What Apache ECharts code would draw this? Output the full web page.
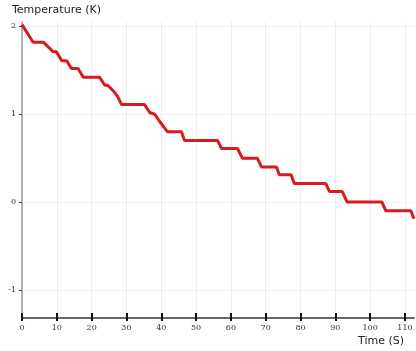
<!DOCTYPE html>
<html>
<head>
<meta charset="utf-8">
<script src="https://cdn.jsdelivr.net/npm/echarts@6/dist/echarts.min.js"></script>
<style>
html,body{margin:0;padding:0;background:#fff;}
#chart{width:416px;height:351px;}
</style>
</head>
<body>
<div id="chart"></div>
<script>
// time (s) and temperature (K), corners of the stair line
var times = [0, 3.2, 6.1, 9.0, 9.9, 11.4, 12.8, 14.2, 16.1, 17.6, 22.3, 23.8, 24.6, 26.6, 27.5, 28.6,
    35.2, 36.7, 38.1, 39.5, 41.8, 45.8, 46.7, 56.2, 57.3, 61.9, 63.3, 67.6, 68.8, 73.1, 73.9,
    77.3, 78.2, 87.3, 88.3, 92.0, 93.4, 103.4, 104.5, 111.7, 112.6];
var temps = [2.02, 1.82, 1.82, 1.71, 1.71, 1.61, 1.61, 1.52, 1.52, 1.42, 1.42, 1.33, 1.33, 1.25, 1.20, 1.11,
    1.11, 1.02, 1.00, 0.92, 0.80, 0.80, 0.70, 0.70, 0.61, 0.61, 0.50, 0.50, 0.40, 0.40, 0.31,
    0.31, 0.21, 0.21, 0.12, 0.12, 0.00, 0.00, -0.10, -0.10, -0.19];
var xTicks = [0, 10, 20, 30, 40, 50, 60, 70, 80, 90, 100, 110];
var yTicks = [-1, 0, 1, 2];

var lineData = [];
for (var i = 0; i < times.length; i++) lineData.push([times[i], temps[i]]);

var myChart = echarts.init(document.getElementById('chart'));
var option = {
    animation: false,
    grid: {left: 22, right: 2, top: 22, bottom: 33},
    xAxis: [
        {
            type: 'value',
            min: 0,
            max: 112.6,
            name: 'Time (S)',
            nameLocation: 'end',
            nameGap: 0,
            nameTextStyle: {
                fontFamily: 'DejaVu Sans', fontSize: 11, color: '#222',
                align: 'right', verticalAlign: 'top', padding: [18, 10, 0, 0]
            },
            axisLine: {onZero: false, lineStyle: {color: '#666', width: 2}},
            axisTick: {customValues: xTicks, inside: true, length: 5, lineStyle: {color: '#111', width: 2}},
            axisLabel: {customValues: xTicks, fontFamily: 'DejaVu Serif', fontSize: 8, color: '#333', margin: 6},
            splitLine: {show: true, lineStyle: {color: '#eeeeee', width: 1}}
        },
        {
            type: 'value',
            min: 0,
            max: 112.6,
            position: 'bottom',
            axisLine: {show: false, onZero: false},
            axisTick: {customValues: xTicks, inside: false, length: 3, lineStyle: {color: '#111', width: 2}},
            axisLabel: {show: false},
            splitLine: {show: false}
        }
    ],
    yAxis: {
        type: 'value',
        min: -1.32,
        max: 2.05,
        name: 'Temperature (K)',
        nameLocation: 'end',
        nameGap: 6,
        nameTextStyle: {fontFamily: 'DejaVu Sans', fontSize: 11, color: '#222', align: 'left', padding: [0, 0, 0, -10]},
        axisLine: {show: true, onZero: false, lineStyle: {color: '#999', width: 1.5}},
        axisTick: {show: true, customValues: yTicks, length: 3, lineStyle: {color: '#444'}},
        axisLabel: {customValues: yTicks, fontFamily: 'DejaVu Serif', fontSize: 8, color: '#333', margin: 6},
        splitLine: {show: true, lineStyle: {color: '#eeeeee', width: 1}}
    },
    series: [
        {
            type: 'line',
            data: lineData,
            showSymbol: false,
            lineStyle: {color: '#d81b1f', width: 3},
            itemStyle: {color: '#d81b1f'}
        }
    ]
};
myChart.setOption(option, true);
</script>
</body>
</html>
